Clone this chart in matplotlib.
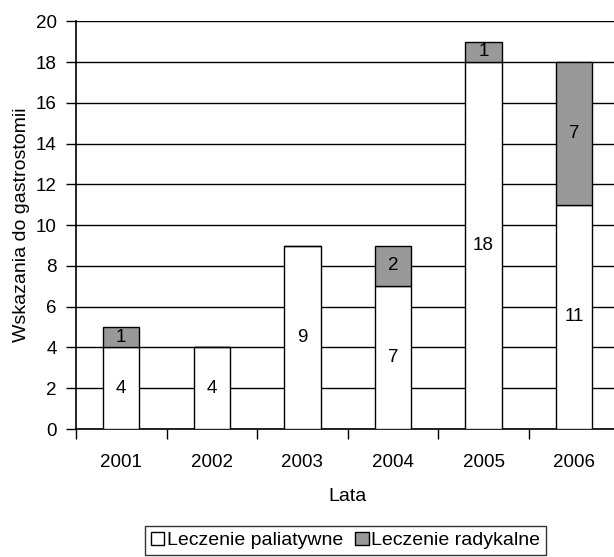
import matplotlib.pyplot as plt
import numpy as np

plt.rcParams['font.family'] = ['Liberation Sans', 'DejaVu Sans']

years = ['2001', '2002', '2003', '2004', '2005', '2006']
paliatywne = [4, 4, 9, 7, 18, 11]
radykalne = [1, 0, 0, 2, 1, 7]

fig = plt.figure(figsize=(6.14, 5.57), dpi=100)
ax = fig.add_axes([0.1238, 0.2298, 0.885, 0.732])

x = np.arange(len(years))
w = 0.4
b1 = ax.bar(x, paliatywne, w, color='white', edgecolor='black', linewidth=1,
            label='Leczenie paliatywne', zorder=3)
b2 = ax.bar(x, radykalne, w, bottom=paliatywne, color='#999999', edgecolor='black',
            linewidth=1, label='Leczenie radykalne', zorder=3)

fs = 13.5
for i in range(len(years)):
    ax.text(x[i], paliatywne[i] / 2, str(paliatywne[i]), ha='center', va='center',
            fontsize=fs, zorder=4)
    if radykalne[i] > 0:
        ax.text(x[i], paliatywne[i] + radykalne[i] / 2, str(radykalne[i]),
                ha='center', va='center', fontsize=fs, zorder=4)

ax.set_ylim(0, 20)
ax.set_yticks(range(0, 21, 2))
ax.set_xlim(-0.5, len(years) - 0.5)
ax.yaxis.grid(True, color='black', linewidth=1)
ax.set_axisbelow(True)

ax.set_xticks(np.arange(-0.5, len(years), 1))
ax.set_xticklabels([])
ax.set_xticks(x, minor=True)
ax.set_xticklabels(years, minor=True)
ax.tick_params(axis='x', which='minor', length=0, pad=18, labelsize=fs)
ax.tick_params(axis='x', which='major', length=7, width=1, direction='out')
ax.tick_params(axis='y', length=7, width=1, direction='out', labelsize=fs, pad=7)

for s in ['top', 'right']:
    ax.spines[s].set_visible(False)
ax.spines['left'].set_linewidth(1.2)
ax.spines['bottom'].set_linewidth(1.2)

ax.set_xlabel('Lata', fontsize=14, labelpad=12)
ax.set_ylabel('Wskazania do gastrostomii', fontsize=14, labelpad=4)

leg = fig.legend(handles=[b1, b2], loc='center', bbox_to_anchor=(0.5627, 0.0296),
                 ncol=2, frameon=True, fancybox=False, edgecolor='black',
                 fontsize=14, handlelength=0.7, handleheight=0.7,
                 handletextpad=0.15, columnspacing=0.6, borderpad=0.3,
                 borderaxespad=0)
leg.get_frame().set_linewidth(1)

fig.savefig('out.png', dpi=100)
